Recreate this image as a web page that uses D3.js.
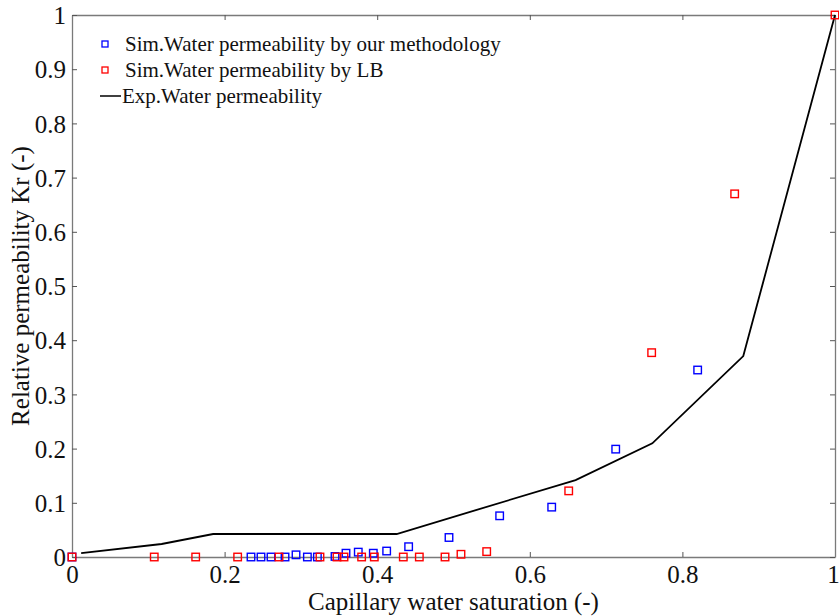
<!DOCTYPE html>
<html><head><meta charset="utf-8">
<script src="https://cdn.jsdelivr.net/npm/d3@7"></script>
<style>body{margin:0;background:#fff}svg{display:block}text{font-family:"Liberation Serif","Times New Roman",serif;fill:#111}</style>
</head><body>
<script>
const blueX=[0,0.2346,0.2477,0.2608,0.2792,0.2936,0.3085,0.3216,0.3447,0.3591,0.3752,0.3949,0.4124,0.4412,0.4941,0.5605,0.6287,0.7126,0.82];
const blueY=[0,0,0,0,0,0.004,0,0,0.001,0.007,0.009,0.007,0.011,0.019,0.036,0.076,0.092,0.199,0.345];
const redX=[0,0.1078,0.1621,0.2171,0.2713,0.325,0.3473,0.3565,0.3796,0.3962,0.4342,0.4552,0.4889,0.5098,0.5435,0.651,0.7597,0.8685,1];
const redY=[0,0,0,0,0,0,0,0,0,0,0,0,0,0.005,0.01,0.122,0.377,0.67,1];
const expX=[0.012,0.1175,0.185,0.4255,0.66,0.7606,0.8798,1];
const expY=[0.007,0.024,0.0424,0.0424,0.142,0.2097,0.3708,1];
const xTicks=[0,0.2,0.4,0.6,0.8,1];
const yTicks=[0,0.1,0.2,0.3,0.4,0.5,0.6,0.7,0.8,0.9,1];
const legendLabels=["Sim.Water permeability by our methodology","Sim.Water permeability by LB","Exp.Water permeability"];
const xTitle="Capillary water saturation (-)";
const yTitle="Relative permeability Kr (-)";

const W=839,H=616,L=72,R=835,T=15,B=557;
const svg=d3.select("body").append("svg").attr("width",W).attr("height",H);
const x=d3.scaleLinear().domain([0,1]).range([L,R]);
const y=d3.scaleLinear().domain([0,1]).range([B,T]);
const axCol="#7a7a7a";
const serif="Liberation Serif, Times New Roman, serif";
const fmt=d=>d===0?"0":d===1?"1":d3.format(".1f")(d);

// axes (ticks inside)
const gx=svg.append("g").attr("transform",`translate(0,${B})`).call(d3.axisBottom(x).tickValues(xTicks).tickFormat(fmt).tickSizeInner(-5).tickSizeOuter(0).tickPadding(8));
const gxt=svg.append("g").attr("transform",`translate(0,${T})`).call(d3.axisTop(x).tickValues(xTicks).tickFormat("").tickSizeInner(-5).tickSizeOuter(0));
const gy=svg.append("g").attr("transform",`translate(${L},0)`).call(d3.axisLeft(y).tickValues(yTicks).tickFormat(fmt).tickSizeInner(-5).tickSizeOuter(0).tickPadding(6));
const gyr=svg.append("g").attr("transform",`translate(${R},0)`).call(d3.axisRight(y).tickValues(yTicks).tickFormat("").tickSizeInner(-5).tickSizeOuter(0));
[gx,gxt,gy,gyr].forEach(g=>{
  g.attr("font-family",serif).attr("font-size",25);
  g.select(".domain").attr("stroke",axCol).attr("stroke-width",1.3);
  g.selectAll(".tick line").attr("stroke","#555").attr("stroke-width",1);
  g.selectAll("text").attr("fill","#111");
});
gx.selectAll(".tick text").attr("dy","0.71em");
gx.selectAll(".tick").filter(d=>d===1).select("text").attr("dx","-2");
gy.selectAll(".tick text").attr("dy","0.35em");

// exp line
const lineData=expX.map((v,i)=>[v,expY[i]]);
svg.append("path").datum(lineData).attr("fill","none").attr("stroke","#000").attr("stroke-width",1.8)
  .attr("d",d3.line().x(d=>x(d[0])).y(d=>y(d[1])));

const sq=7.5;
function pts(xs,ys,col){
  svg.append("g").selectAll("rect").data(xs.map((v,i)=>[v,ys[i]])).join("rect")
   .attr("x",d=>x(d[0])-sq/2).attr("y",d=>y(d[1])-sq/2).attr("width",sq).attr("height",sq)
   .attr("fill","none").attr("stroke",col).attr("stroke-width",1.4);
}
pts(blueX,blueY,"#0000ff");
pts(redX,redY,"#ff0000");

// legend
const lg=svg.append("g");
const rows=[44,70,96];
const lsq=6;
[["#0000ff"],["#ff0000"]].forEach((c,i)=>{
  lg.append("rect").attr("x",105-lsq/2).attr("y",rows[i]-lsq/2).attr("width",lsq).attr("height",lsq).attr("fill","none").attr("stroke",c[0]).attr("stroke-width",1.3);
});
lg.append("line").attr("x1",100).attr("x2",121).attr("y1",rows[2]).attr("y2",rows[2]).attr("stroke","#000").attr("stroke-width",1.5);
legendLabels.forEach((t,i)=>{
  lg.append("text").attr("x",i===2?122:125).attr("y",rows[i]).attr("dy","0.35em").style("font-size","21px").text(t);
});

// titles
svg.append("text").attr("x",(L+R)/2).attr("y",610).attr("text-anchor","middle").style("font-size","25px").text(xTitle);
svg.append("text").attr("transform",`translate(29,${(T+B)/2}) rotate(-90)`).attr("text-anchor","middle").style("font-size","25px").text(yTitle);
</script>
</body></html>
